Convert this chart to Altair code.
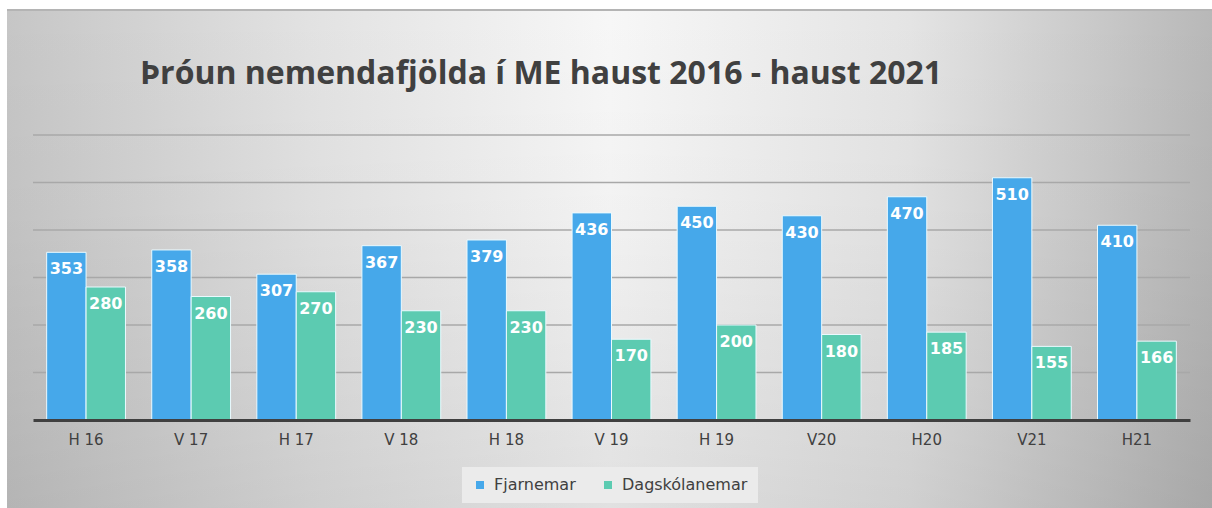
import altair as alt
import pandas as pd

periods = ["H 16", "V 17", "H 17", "V 18", "H 18", "V 19", "H 19", "V20", "H20", "V21", "H21"]
fjarnemar = [353, 358, 307, 367, 379, 436, 450, 430, 470, 510, 410]
dagskolanemar = [280, 260, 270, 230, 230, 170, 200, 180, 185, 155, 166]
series_names = ["Fjarnemar", "Dagskólanemar"]
series_colors = ["#46a8ea", "#5ccbb1"]
grid_values = [100, 200, 300, 400, 500, 600]
title_text = "Þróun nemendafjölda í ME haust 2016 - haust 2021"

rows = []
for p, a, b in zip(periods, fjarnemar, dagskolanemar):
    rows.append({"period": p, "series": series_names[0], "value": a})
    rows.append({"period": p, "series": series_names[1], "value": b})
df = pd.DataFrame(rows)
grid_df = pd.DataFrame({"value": grid_values})

W, H = 1157, 285
PL, PT = 33, 135

one = pd.DataFrame({"k": [0]})

bg = alt.Chart(one).mark_rect(
    color=alt.Gradient(
        gradient="linear", x1=0, x2=1, y1=0, y2=0,
        stops=[
            alt.GradientStop(color="#c6c6c6", offset=0),
            alt.GradientStop(color="#e2e2e2", offset=0.25),
            alt.GradientStop(color="#f7f7f7", offset=0.5),
            alt.GradientStop(color="#e4e4e4", offset=0.75),
            alt.GradientStop(color="#b8b8b8", offset=1),
        ],
    )
).encode(
    x=alt.value(7 - PL), x2=alt.value(1212 - PL),
    y=alt.value(9 - PT), y2=alt.value(508 - PT),
)

shade = alt.Chart(one).mark_rect(
    color=alt.Gradient(
        gradient="linear", x1=0, x2=0, y1=0, y2=1,
        stops=[
            alt.GradientStop(color="rgba(0,0,0,0)", offset=0),
            alt.GradientStop(color="rgba(0,0,0,0.02)", offset=0.4),
            alt.GradientStop(color="rgba(0,0,0,0.09)", offset=1),
        ],
    )
).encode(
    x=alt.value(7 - PL), x2=alt.value(1212 - PL),
    y=alt.value(9 - PT), y2=alt.value(508 - PT),
)

topline = alt.Chart(one).mark_rule(color="#b4b4b4", strokeWidth=2).encode(
    x=alt.value(7 - PL), x2=alt.value(1212 - PL), y=alt.value(10 - PT)
)

title = alt.Chart(one).mark_text(
    text=title_text, align="left", baseline="alphabetic",
    font="Open Sans", fontSize=32, fontWeight="bold", color="#404040",
).encode(x=alt.value(140 - PL), y=alt.value(84 - PT))

y_scale = alt.Scale(domain=[0, 600], nice=False)

grid = alt.Chart(grid_df).mark_rule(color="#a8a8a8", strokeWidth=1.5).encode(
    y=alt.Y("value:Q", scale=y_scale, axis=None),
    x=alt.value(0), x2=alt.value(W),
)

x_enc = alt.X(
    "period:N", sort=periods, title=None,
    scale=alt.Scale(paddingInner=0.25, paddingOuter=0.13),
    axis=alt.Axis(
        labelAngle=0, ticks=False, domainColor="#404040", domainWidth=3,
        labelFont="DejaVu Sans", labelFontSize=15, labelColor="#404040",
        labelPadding=12, grid=False, zindex=1,
    ),
)
y_enc = alt.Y("value:Q", title=None, scale=y_scale, axis=None)
color_enc = alt.Color(
    "series:N", sort=series_names,
    scale=alt.Scale(domain=series_names, range=series_colors),
    legend=alt.Legend(
        title=None, orient="none", direction="horizontal",
        legendX=429, legendY=332,
        symbolType="square", symbolSize=64, symbolStrokeWidth=0,
        labelFont="DejaVu Sans", labelFontSize=16, labelColor="#404040",
        labelOffset=6, columnPadding=24,
        fillColor="#ebebeb", padding=10,
    ),
)

bars = alt.Chart(df).mark_bar(stroke="#eafaff", strokeWidth=1).encode(
    x=x_enc, y=y_enc, color=color_enc,
    xOffset=alt.XOffset("series:N", sort=series_names),
)

labels = alt.Chart(df).mark_text(
    baseline="top", dy=9, color="white", font="DejaVu Sans",
    fontWeight="bold", fontSize=16,
).encode(
    x=x_enc, y=y_enc,
    xOffset=alt.XOffset("series:N", sort=series_names),
    text="value:Q",
)

chart = alt.layer(bg, shade, topline, title, grid, bars, labels).properties(
    width=W, height=H,
    padding={"left": PL, "top": PT, "right": 1212 - PL - W, "bottom": 508 - PT - H},
    autosize=alt.AutoSizeParams(type="none"),
).configure_view(stroke=None).configure(background="white")

chart.save("out.html", embed_options={"renderer": "svg", "actions": False})
